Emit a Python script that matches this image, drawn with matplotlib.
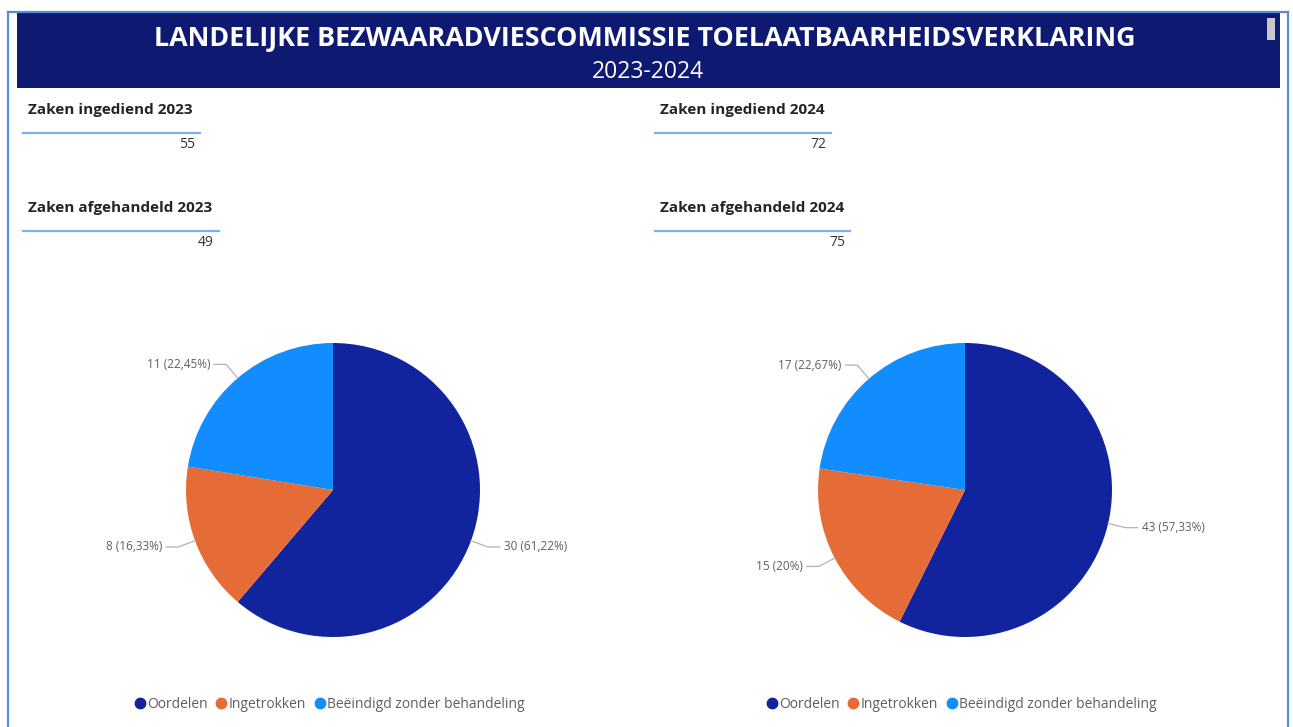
import matplotlib
matplotlib.use("Agg")
import matplotlib.pyplot as plt
from matplotlib.patches import Rectangle
from matplotlib.lines import Line2D
import numpy as np

W, H = 1293, 727

title = "LANDELIJKE BEZWAARADVIESCOMMISSIE TOELAATBAARHEIDSVERKLARING"
subtitle = "2023-2024"
categories = ["Oordelen", "Ingetrokken", "Beëindigd zonder behandeling"]
values_2023 = [30, 8, 11]
values_2024 = [43, 15, 17]
kpi_labels_2023 = ["Zaken ingediend 2023", "Zaken afgehandeld 2023"]
kpi_values_2023 = [55, 49]
kpi_labels_2024 = ["Zaken ingediend 2024", "Zaken afgehandeld 2024"]
kpi_values_2024 = [72, 75]
colors = ["#12239E", "#E66C37", "#118DFF"]

plt.rcParams['font.family'] = ['Open Sans', 'DejaVu Sans']

fig = plt.figure(figsize=(W / 100, H / 100), dpi=100)
ax = fig.add_axes([0, 0, 1, 1])


def Y(y):
    return H - y


# border & header
border_c = "#5B8AD6"
ax.plot([8, 8], [Y(12), Y(727)], color=border_c, lw=1.6)
ax.plot([8, 1288], [Y(12), Y(12)], color=border_c, lw=1.6)
ax.plot([1288, 1288], [Y(12), Y(727)], color=border_c, lw=1.6)
ax.add_patch(Rectangle((17, Y(88)), 1263, 75, color="#0E1A72", lw=0))
ax.add_patch(Rectangle((1267, Y(40)), 8, 22, color="#C8C8C8", lw=0))
ax.text(645, Y(39), title, color="white", fontsize=19.4, fontweight="bold",
        ha="center", va="center")
ax.text(648, Y(72), subtitle, color="white", fontsize=16.5, ha="center", va="center")

# KPI cards
def kpi(x0, labels, values, line_ends):
    for i, (lab, val) in enumerate(zip(labels, values)):
        yoff = i * 98
        ax.text(x0 + 5, Y(110 + yoff), lab, color="#252423", fontsize=11,
                fontweight="bold", ha="left", va="center")
        ax.plot([x0, line_ends[i]], [Y(133 + yoff), Y(133 + yoff)],
                color="#76B4F4", lw=1.6)
        ax.text(line_ends[i] - 5, Y(144 + yoff), str(val), color="#333333",
                fontsize=10, ha="right", va="center")


kpi(23, kpi_labels_2023, kpi_values_2023, [200, 219])
kpi(655, kpi_labels_2024, kpi_values_2024, [831, 850])


def fmt_pct(p):
    s = f"{p:.2f}".rstrip('0').rstrip('.')
    return s.replace('.', ',')


def draw_pie(cx, cy, r, values):
    wedges, _ = ax.pie(values, colors=colors, startangle=90, counterclock=False,
                       center=(cx, Y(cy)), radius=r, frame=True,
                       wedgeprops=dict(linewidth=0))
    total = sum(values)
    for w, v in zip(wedges, values):
        ang = np.deg2rad((w.theta1 + w.theta2) / 2)
        c, s = np.cos(ang), np.sin(ang)
        x1, y1 = cx + r * c, Y(cy) + r * s
        x2, y2 = cx + (r + 18) * c, Y(cy) + (r + 18) * s
        d = 1 if c >= 0 else -1
        x3 = x2 + d * 12
        ax.plot([x1, x2, x3], [y1, y2, y2], color="#B3B3B3", lw=0.9)
        ax.text(x3 + d * 4, y2, f"{v} ({fmt_pct(v / total * 100)}%)",
                color="#605E5C", fontsize=8.5, ha="left" if d > 0 else "right",
                va="center")


draw_pie(333, 490, 147, values_2023)
draw_pie(965, 490, 147, values_2024)

ax.set_xlim(0, W)
ax.set_ylim(0, H)
ax.axis("off")

handles = [Line2D([], [], marker="o", linestyle="", color=c, markersize=7.5)
           for c in colors]
for xc in (330, 962):
    leg = fig.legend(handles, categories, loc="center", ncol=3,
                     bbox_to_anchor=(xc / W, Y(704) / H), frameon=False,
                     fontsize=10, handlelength=0.7, handletextpad=0.2,
                     columnspacing=0.6, labelcolor="#605E5C")

fig.savefig("out.png", dpi=100)
